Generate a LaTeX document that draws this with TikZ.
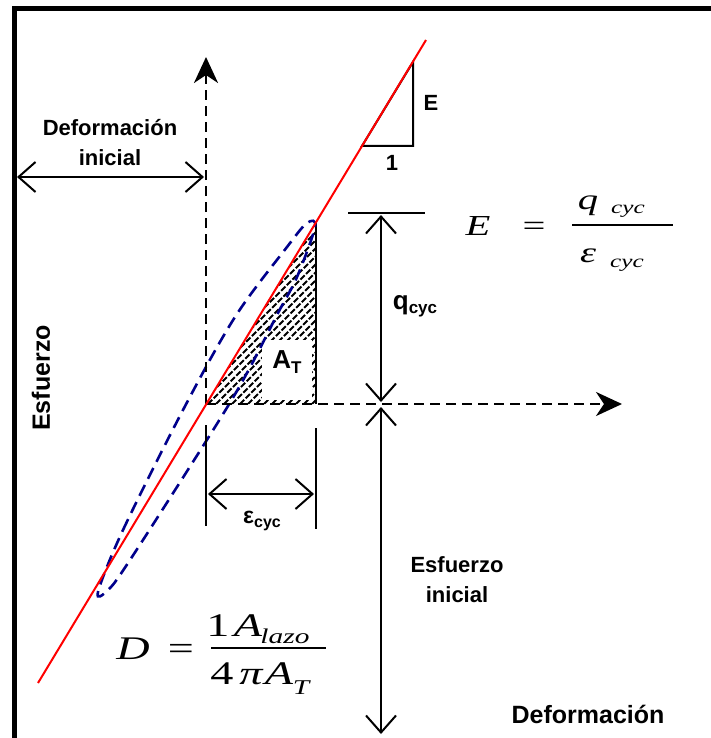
\documentclass[tikz,border=0pt]{standalone}
\usepackage{fontspec}
\setmainfont{Liberation Sans}
\newfontfamily\serif{Liberation Serif}
\usetikzlibrary{arrows.meta}
\definecolor{loopblue}{RGB}{0,0,140}
\tikzset{
  lbl/.style={font=\bfseries\fontsize{22}{30}\selectfont, align=center, inner sep=0pt},
  biglbl/.style={font=\bfseries\fontsize{25}{30}\selectfont, inner sep=0pt},
  mth/.style={font=\serif\itshape\fontsize{#1}{#1}\selectfont, inner sep=0pt, xscale=1.4, anchor=base},
  mrm/.style={font=\serif\fontsize{#1}{#1}\selectfont, inner sep=0pt, xscale=1.4, anchor=base},
  axisline/.style={line width=2.8pt, dash pattern=on 10pt off 6pt, -{Stealth[length=26pt,width=24pt,inset=8pt]}},
  dimline/.style={line width=2pt, {Straight Barb[length=17pt,width=30pt]}-{Straight Barb[length=17pt,width=30pt]}},
  plainline/.style={line width=2pt},
  hatchline/.style={line width=2pt, dash pattern=on 6pt off 2pt},
  loopline/.style={loopblue, line width=2.6pt, dash pattern=on 12pt off 7pt},
}
\begin{document}
\begin{tikzpicture}[x=1pt,y=-1pt]
\useasboundingbox (0,0) rectangle (711,738);
\fill[white] (0,0) rectangle (711,738);
% frame
\coordinate (fb) at (14.5,738);
\coordinate (fc) at (14.5,9);
\coordinate (fr) at (711,9);
\draw[line width=5pt] (fb) -- (fc) -- (fr);

% key points
\coordinate (O) at (206,404);
\coordinate (T) at (316,222);
\coordinate (B) at (316,404);

% hatched triangle
\begin{scope}
  \clip (O) -- (T) -- (B) -- cycle;
  \foreach \c in {0,8,...,320} {
    \draw[hatchline] (\c,404) -- ++(200,-200);
  }
\end{scope}
\fill[white] (262,340) rectangle (312,400);
\node[inner sep=0pt] (AT) at (287,362) {\bfseries\fontsize{26}{26}\selectfont A\raisebox{-5pt}{\fontsize{17}{17}\selectfont T}};
\draw[plainline] (T) -- (B);

% loop
\draw[loopline] plot[smooth cycle, tension=0.55] coordinates {(98,592) (123,530) (183,410) (235,317) (287,247) (307,223) (315,227) (297,277) (278,313) (247,373) (215,427) (130,560) (108,590)};

% axes
\coordinate (Ytip) at (206,57);
\coordinate (Xtip) at (622,404);
\draw[axisline] (O) -- (Ytip);
\draw[axisline] (O) -- (Xtip);

% slope triangle
\coordinate (s1) at (362,146);
\coordinate (s2) at (413,146);
\coordinate (s3) at (413,62);
\draw[plainline, line join=miter] (s1) -- (s2) -- (s3) -- cycle;
\node[lbl] (Elab) at (431,103) {E};
\node[lbl] (onelab) at (392,163) {1};

% red line
\coordinate (r1) at (38,683);
\coordinate (r2) at (426,40);
\draw[red, line width=2pt] (r1) -- (r2);

% initial deformation
\coordinate (d1) at (17,177);
\coordinate (d2) at (204,177);
\draw[dimline] (d1) -- (d2);
\node[lbl] (deftxt) at (110,143) {Deformación\\inicial};

% q_cyc
\coordinate (qtl) at (348,213);
\coordinate (qtr) at (425,213);
\draw[plainline] (qtl) -- (qtr);
\coordinate (qa) at (381,215);
\coordinate (qb) at (381,402);
\draw[dimline] (qa) -- (qb);
\node[inner sep=0pt] (qlab) at (415,306) {\bfseries\fontsize{26}{26}\selectfont q\raisebox{-4pt}{\fontsize{17}{17}\selectfont cyc}};

% initial stress
\coordinate (ea) at (381,407);
\coordinate (eb) at (381,734);
\draw[dimline] (ea) -- (eb);
\node[lbl] (esftxt) at (457,580) {Esfuerzo\\inicial};

% eps_cyc
\coordinate (t1a) at (206,425);
\coordinate (t1b) at (206,526);
\coordinate (t2a) at (316,428);
\coordinate (t2b) at (316,529);
\draw[plainline] (t1a) -- (t1b);
\draw[plainline] (t2a) -- (t2b);
\coordinate (ca) at (208,494);
\coordinate (cb) at (314,494);
\draw[dimline] (ca) -- (cb);
\node[inner sep=0pt] (epslab) at (262,521) {\bfseries\fontsize{23}{23}\selectfont ε\raisebox{-4pt}{\fontsize{16}{16}\selectfont cyc}};

% axis labels
\node[biglbl, rotate=90] (esfy) at (41,378) {Esfuerzo};
\node[biglbl] (defx) at (588,714) {Deformación};

% E formula
\node[mth=29] (fE) at (478,235) {E};
\node[mrm=29] (feq) at (534,235) {=};
\coordinate (fb1) at (572,225);
\coordinate (fb2) at (673,225);
\draw[line width=1.5pt] (fb1) -- (fb2);
\node[mth=29] (fq) at (588,209) {q};
\node[mth=18] (fqs) at (628,213) {cyc};
\node[mth=29] (feps) at (588,262) {ε};
\node[mth=18] (fes) at (627,267) {cyc};

% D formula
\node[mth=33] (fD) at (133,659) {D};
\node[mrm=33] (fDeq) at (181,659) {=};
\coordinate (db1) at (211,648);
\coordinate (db2) at (326,648);
\draw[line width=1.5pt] (db1) -- (db2);
\node[mrm=33] (n1) at (218,636) {1};
\node[mth=33] (nA) at (248,636) {A};
\node[mth=21] (nl) at (285,643) {lazo};
\node[mrm=33] (d4) at (222,684) {4};
\node[mth=33] (dpi) at (251,684) {π};
\node[mth=33] (dA) at (279,684) {A};
\node[mth=21] (dT) at (301,694) {T};
\end{tikzpicture}
\end{document}
